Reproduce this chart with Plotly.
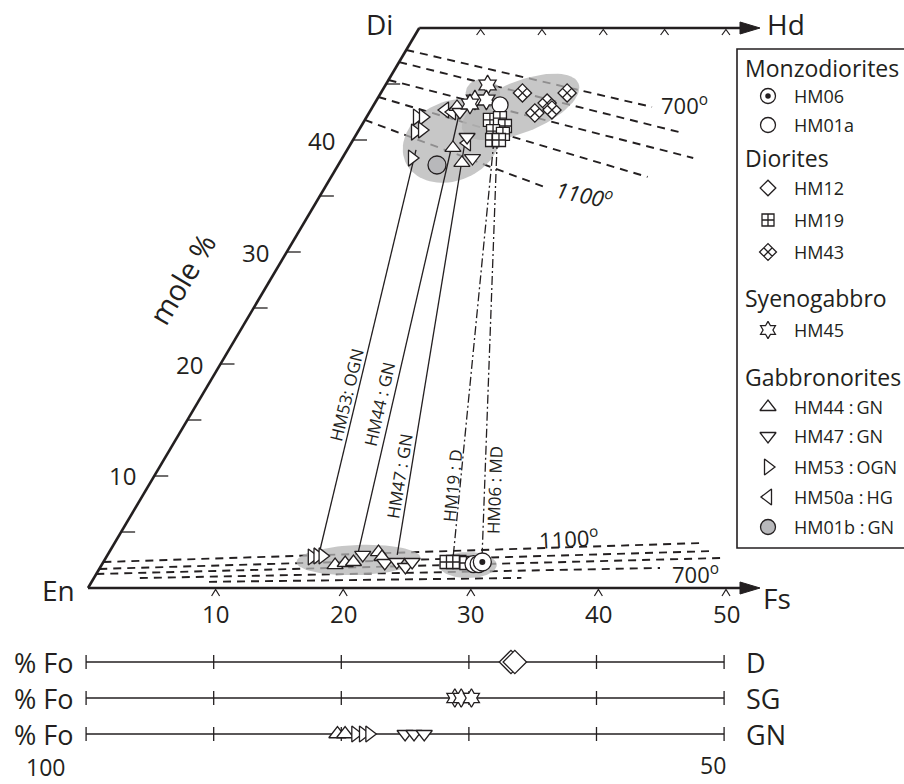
import numpy as np
import plotly.graph_objects as go

W, H = 904, 784
FONT = "Open Sans"
INK = "#231f20"

# ---------------- data: pyroxene compositions (Fs, Wo in mole %) ----------------
# clinopyroxene (upper cluster)
cpx_hm53_fs = [3.95, 4.42, 4.49, 4.95, 5.46]
cpx_hm53_wo = [42.05, 42.05, 40.71, 40.89, 38.39]
cpx_hm50a_fs = [5.82, 6.46, 9.07]
cpx_hm50a_wo = [42.68, 42.50, 39.73]
cpx_hm44_fs = [6.62, 8.2, 9.6]
cpx_hm44_wo = [42.95, 39.29, 37.95]
cpx_hm47_fs = [7.08, 8.8, 10.2]
cpx_hm47_wo = [42.50, 40.27, 38.39]
cpx_hm45_fs = [8.0, 7.7, 8.6, 7.5]
cpx_hm45_wo = [44.91, 43.57, 43.57, 43.21]
cpx_hm19_fs = [9.8, 10.5, 11.26, 10.56, 11.47, 10.9, 11.44]
cpx_hm19_wo = [41.79, 41.96, 41.25, 40.80, 40.54, 40.0, 40.0]
cpx_hm01a_fs = [9.9]
cpx_hm01a_wo = [43.13]
cpx_hm43_fs = [11.1, 14.6, 13.0, 13.5, 14.2]
cpx_hm43_wo = [44.2, 44.2, 42.41, 43.3, 42.68]
cpx_hm01b_fs = [7.74]
cpx_hm01b_wo = [37.77]

# orthopyroxene (lower cluster)
opx_hm53_fs = [16.1, 16.5, 16.9]
opx_hm53_wo = [2.77, 2.86, 2.86]
opx_hm44_fs = [18.3, 19.0, 19.6, 21.1, 21.6]
opx_hm44_wo = [2.05, 2.23, 2.32, 3.21, 2.77]
opx_hm47_fs = [20.0, 22.1, 23.0, 23.9, 24.2]
opx_hm47_wo = [2.95, 2.23, 2.32, 1.875, 2.32]
opx_hm19_fs = [26.9, 27.4, 27.9, 28.5]
opx_hm19_wo = [2.32, 2.32, 2.32, 2.23]
opx_hm01a_fs = [29.1, 29.5]
opx_hm01a_wo = [2.14, 2.14]
opx_hm06_fs = [29.7]
opx_hm06_wo = [2.32]

# tie lines
tie_labels = ["HM53: OGN", "HM44 : GN", "HM47 : GN", "HM19 : D", "HM06 : MD"]
tie_top_fs = [5.4, 7.0, 8.8, 11.05, 11.3]
tie_top_wo = [39.11, 42.68, 40.0, 40.0, 40.0]
tie_bot_fs = [16.5, 19.6, 22.7, 27.1, 29.4]
tie_bot_wo = [3.125, 2.95, 2.95, 2.95, 2.86]
tie_dashdot = [False, False, False, True, True]

# isotherms (Fs, Wo at each end)
iso_cpx_fs0 = [0, 0, 0, 0, 0]
iso_cpx_wo0 = [48.04, 46.96, 45.36, 43.84, 41.79]
iso_cpx_fs1 = [21.9, 25.5, 27.5, 24.8, 17.2]
iso_cpx_wo1 = [42.95, 40.63, 38.39, 36.70, 35.80]
iso_opx_fs0 = [0, 0, 0, 3.6, 9.2]
iso_opx_wo0 = [2.32, 1.70, 1.25, 0.89, 0.55]
iso_opx_fs1 = [46.1, 47.3, 48.3, 43.9, 33.5]
iso_opx_wo1 = [4.02, 3.30, 2.68, 1.79, 0.90]

# compositional fields (centre Fs, Wo, semi-axes in plot units, angle deg)
field_fs = [7.8, 11.6, 8.0, 19.9, 28.7]
field_wo = [39.91, 42.95, 44.2, 2.5, 2.05]
field_rx = [4.0, 4.9, 1.35, 4.86, 2.27]
field_ry = [3.1, 2.0, 1.1, 1.18, 1.02]
field_ang = [25, 22, 0, 2, 0]

# olivine (% Fo)
fo_d_hm12 = [66.7, 66.4]
fo_sg_hm45 = [71.1, 70.6, 69.8]
fo_gn_hm44 = [80.3, 79.7]
fo_gn_hm53 = [78.9, 78.3, 77.8]
fo_gn_hm47 = [75.0, 74.3, 73.5]
fo_rows = ["D", "SG", "GN"]
fo_ticks = [100, 90, 80, 70, 60, 50]

fs_ticks = [10, 20, 30, 40, 50]
wo_ticks = [5, 10, 15, 20, 25, 30, 35, 40, 45]
wo_labels = [10, 20, 30, 40]

# ---------------- geometry ----------------
PX = 12.76            # pixels per plot unit
U = 1.0 / PX
SX = 6.625 / PX       # horizontal shift per Wo unit
SY = 11.2 / PX        # height per Wo unit
X0, X1 = -88 * U, (W - 88) * U
Y0, Y1 = (588 - H) * U, 588 * U


def T(fs, wo):
    fs = np.asarray(fs, float)
    wo = np.asarray(wo, float)
    return fs + SX * wo, SY * wo


def pp(px, py):
    return px / W, 1 - py / H


fig = go.Figure()


def line(xs, ys, width=1.3, dash="solid", color=INK):
    fig.add_trace(go.Scatter(x=xs, y=ys, mode="lines", hoverinfo="skip",
                             line=dict(color=color, width=width, dash=dash),
                             showlegend=False))


def pts(fs, wo, symbol, size, fill="white", lw=1.3):
    x, y = T(fs, wo)
    fig.add_trace(go.Scatter(x=x, y=y, mode="markers", hoverinfo="skip",
                             marker=dict(symbol=symbol, size=size, color=fill,
                                         line=dict(color=INK, width=lw)),
                             showlegend=False))


# isotherms
for a, b, c, d in zip(iso_cpx_fs0, iso_cpx_wo0, iso_cpx_fs1, iso_cpx_wo1):
    x, y = T([a, c], [b, d])
    line(x, y, width=1.9, dash="8px,6px")
for a, b, c, d in zip(iso_opx_fs0, iso_opx_wo0, iso_opx_fs1, iso_opx_wo1):
    x, y = T([a, c], [b, d])
    line(x, y, width=1.9, dash="8px,6px")

# fields
t = np.linspace(0, 2 * np.pi, 80)
for fs, wo, rx, ry, ang in zip(field_fs, field_wo, field_rx, field_ry, field_ang):
    cx, cy = T(fs, wo)
    A = np.radians(ang)
    ex = cx + rx * np.cos(t) * np.cos(A) - ry * np.sin(t) * np.sin(A)
    ey = cy + rx * np.cos(t) * np.sin(A) + ry * np.sin(t) * np.cos(A)
    fig.add_trace(go.Scatter(x=ex, y=ey, mode="lines", fill="toself",
                             fillcolor="rgba(180,180,180,0.75)",
                             line=dict(width=0, color="rgba(0,0,0,0)"),
                             hoverinfo="skip", showlegend=False))

# quadrilateral frame
tip = (760 - 88) * U
x, y = T([0, 0], [0, 50])
line(list(x), list(y), width=2.6)
line([x[1], tip - 1.0], [y[1], y[1]], width=2.6)
line([0, tip - 1.0], [0, 0], width=2.6)
for yy in (0, y[1]):
    fig.add_trace(go.Scatter(x=[tip, tip - 20 * U, tip - 20 * U, tip],
                             y=[yy, yy + 6 * U, yy - 6 * U, yy],
                             mode="lines", fill="toself", fillcolor=INK,
                             line=dict(color=INK, width=1), hoverinfo="skip",
                             showlegend=False))
# carets on bottom axis
cx_, cy_ = [], []
for f in fs_ticks:
    cx_ += [f - 4 * U, f, f + 4 * U, None]
    cy_ += [-8 * U, -1.5 * U, -8 * U, None]
line(cx_, cy_, width=1.2)
# carets on top axis (Hd side)
top_tick_frac = [0.18, 0.36, 0.54, 0.72, 0.90]
cx_, cy_ = [], []
for fr in top_tick_frac:
    xx = x[1] + fr * (tip - x[1])
    cx_ += [xx - 4 * U, xx, xx + 4 * U, None]
    cy_ += [y[1] - 7 * U, y[1] - 1.5 * U, y[1] - 7 * U, None]
line(cx_, cy_, width=1.2)
# ticks on Wo edge
tx_, ty_ = [], []
for w in wo_ticks:
    ex, ey = T(0, w)
    tx_ += [float(ex), float(ex) + 14 * U, None]
    ty_ += [float(ey), float(ey), None]
line(tx_, ty_, width=1.3)

# tie lines
for lab, a, b, c, d, dd in zip(tie_labels, tie_top_fs, tie_top_wo, tie_bot_fs, tie_bot_wo, tie_dashdot):
    x2, y2 = T([a, c], [b, d])
    line(x2, y2, width=1.3, dash="9px,3px,2px,3px" if dd else "solid")

# markers: cpx
pts(cpx_hm53_fs, cpx_hm53_wo, "triangle-right", 14)
pts(cpx_hm50a_fs, cpx_hm50a_wo, "triangle-left", 14)
pts(cpx_hm44_fs, cpx_hm44_wo, "triangle-up", 14)
pts(cpx_hm47_fs, cpx_hm47_wo, "triangle-down", 14)
pts(cpx_hm45_fs, cpx_hm45_wo, "hexagram", 15)
pts(cpx_hm01a_fs, cpx_hm01a_wo, "circle", 16)
pts(cpx_hm19_fs, cpx_hm19_wo, "square-cross", 13)
pts(cpx_hm43_fs, cpx_hm43_wo, "diamond-x", 14)
pts(cpx_hm01b_fs, cpx_hm01b_wo, "circle", 18, fill="#b8b8bb")
# markers: opx
pts(opx_hm53_fs, opx_hm53_wo, "triangle-right", 14)
pts(opx_hm44_fs, opx_hm44_wo, "triangle-up", 14)
pts(opx_hm47_fs, opx_hm47_wo, "triangle-down", 14)
pts(opx_hm19_fs, opx_hm19_wo, "square-cross", 13)
pts(opx_hm01a_fs, opx_hm01a_wo, "circle", 17)
pts(opx_hm06_fs, opx_hm06_wo, "circle", 18)
pts(opx_hm06_fs, opx_hm06_wo, "circle", 6, fill=INK, lw=0)

# ---------------- olivine bars ----------------
fo_row_py = [662, 698, 734]


def fox(fo):
    return (100 - np.asarray(fo, float)) - 0.15


for py in fo_row_py:
    yy = (588 - py) * U
    line([fox(100), fox(50)], [yy, yy], width=1.3)
    tx_, ty_ = [], []
    for f in fo_ticks:
        tx_ += [float(fox(f)), float(fox(f)), None]
        ty_ += [yy - 7 * U, yy + 7 * U, None]
    line(tx_, ty_, width=1.3)


def fo_pts(fo, py, symbol, size, lw=1.3):
    fig.add_trace(go.Scatter(x=fox(fo), y=[(588 - py) * U] * len(fo), mode="markers",
                             marker=dict(symbol=symbol, size=size, color="white",
                                         line=dict(color=INK, width=lw)),
                             hoverinfo="skip", showlegend=False))


fo_pts(fo_d_hm12, fo_row_py[0], "diamond", 18)
fo_pts(fo_sg_hm45, fo_row_py[1], "hexagram", 14)
fo_pts(fo_gn_hm47, fo_row_py[2], "triangle-down", 14)
fo_pts(fo_gn_hm44, fo_row_py[2], "triangle-up", 15)
fo_pts(fo_gn_hm53, fo_row_py[2], "triangle-right", 14)

# ---------------- annotations ----------------
ann = []


def text(s, px, py, size, anchor="center", angle=0, vanchor="middle"):
    x_, y_ = pp(px, py)
    ann.append(dict(text=s, x=x_, y=y_, xref="paper", yref="paper", showarrow=False,
                    xanchor=anchor, yanchor=vanchor, textangle=angle,
                    font=dict(family=FONT, size=size, color=INK)))


text("Di", 379, 24, 28)
text("Hd", 786, 24, 28)
text("En", 58, 590, 28)
text("Fs", 777, 598, 28)
text("mole %", 181, 279, 29, angle=-59)
for w in wo_labels:
    ex, ey = T(0, w)
    text(str(w), 88 + float(ex) * PX - 16, 588 - float(ey) * PX, 24, anchor="right")
for f in fs_ticks:
    text(str(f), 88 + f * PX, 613, 24)

text("700<sup>o</sup>", 684, 105, 22)
text("<i>1100<sup>o</sup></i>", 584, 193, 22, angle=12)
text("1100<sup>o</sup>", 569, 537, 22, angle=-3)
text("700<sup>o</sup>", 695, 573, 22)

tie_lab_px = [(346, 395), (380, 404), (400, 476), (452, 486), (494, 490)]
for lab, a, b, c, d, (lx, ly) in zip(tie_labels, tie_top_fs, tie_top_wo, tie_bot_fs, tie_bot_wo, tie_lab_px):
    x2, y2 = T([a, c], [b, d])
    ang = np.degrees(np.arctan2(y2[0] - y2[1], x2[0] - x2[1]))
    text(lab, lx, ly, 17, angle=-ang)

for lab, py in zip(fo_rows, fo_row_py):
    text("% Fo", 76, py, 27, anchor="right")
    text(lab, 744, py, 27, anchor="left")
text("100", 45, 767, 23)
text("50", 713, 765, 23)

# ---------------- legend box ----------------
legend_items = [
    ("h", "Monzodiorites", None, 68),
    ("e", "HM06", "circle", 96),
    ("e", "HM01a", "circle", 125),
    ("h", "Diorites", None, 158),
    ("e", "HM12", "diamond", 188),
    ("e", "HM19", "square-cross", 220),
    ("e", "HM43", "diamond-x", 252),
    ("h", "Syenogabbro", None, 298),
    ("e", "HM45", "hexagram", 330),
    ("h", "Gabbronorites", None, 377),
    ("e", "HM44 :\u2009GN", "triangle-up", 407),
    ("e", "HM47 :\u2009GN", "triangle-down", 436),
    ("e", "HM53 :\u2009OGN", "triangle-right", 467),
    ("e", "HM50a :\u2009HG", "triangle-left", 497),
    ("e", "HM01b :\u2009GN", "circle", 527),
]
leg_size = {"circle": 15, "diamond": 12, "square-cross": 12, "diamond-x": 13,
            "hexagram": 13, "triangle-up": 14, "triangle-down": 14,
            "triangle-right": 14, "triangle-left": 14}
for kind, lab, sym, py in legend_items:
    if kind == "h":
        text(lab, 743, py, 23, anchor="left")
    else:
        text(lab, 792, py, 18, anchor="left")
        fill = "#b8b8bb" if lab.startswith("HM01b") else "white"
        fig.add_trace(go.Scatter(x=[768], y=[py], xaxis="x2", yaxis="y2", mode="markers",
                                 marker=dict(symbol=sym, size=leg_size[sym], color=fill,
                                             line=dict(color=INK, width=1.3)),
                                 hoverinfo="skip", showlegend=False))
        if lab == "HM06":
            fig.add_trace(go.Scatter(x=[768], y=[py], xaxis="x2", yaxis="y2", mode="markers",
                                     marker=dict(symbol="circle", size=5.5, color=INK),
                                     hoverinfo="skip", showlegend=False))

fig.update_layout(
    width=W, height=H, margin=dict(l=0, r=0, t=0, b=0),
    paper_bgcolor="white", plot_bgcolor="white", showlegend=False,
    xaxis=dict(range=[X0, X1], visible=False, fixedrange=True),
    yaxis=dict(range=[Y0, Y1], visible=False, fixedrange=True),
    xaxis2=dict(range=[0, W], visible=False, overlaying="x", fixedrange=True),
    yaxis2=dict(range=[H, 0], visible=False, overlaying="y", fixedrange=True),
    annotations=ann,
    shapes=[dict(type="rect", xref="paper", yref="paper",
                 x0=737 / W, x1=910 / W, y0=1 - 548 / H, y1=1 - 49 / H,
                 line=dict(color=INK, width=1.6), fillcolor="rgba(0,0,0,0)")],
)

fig.write_html("out.html")
